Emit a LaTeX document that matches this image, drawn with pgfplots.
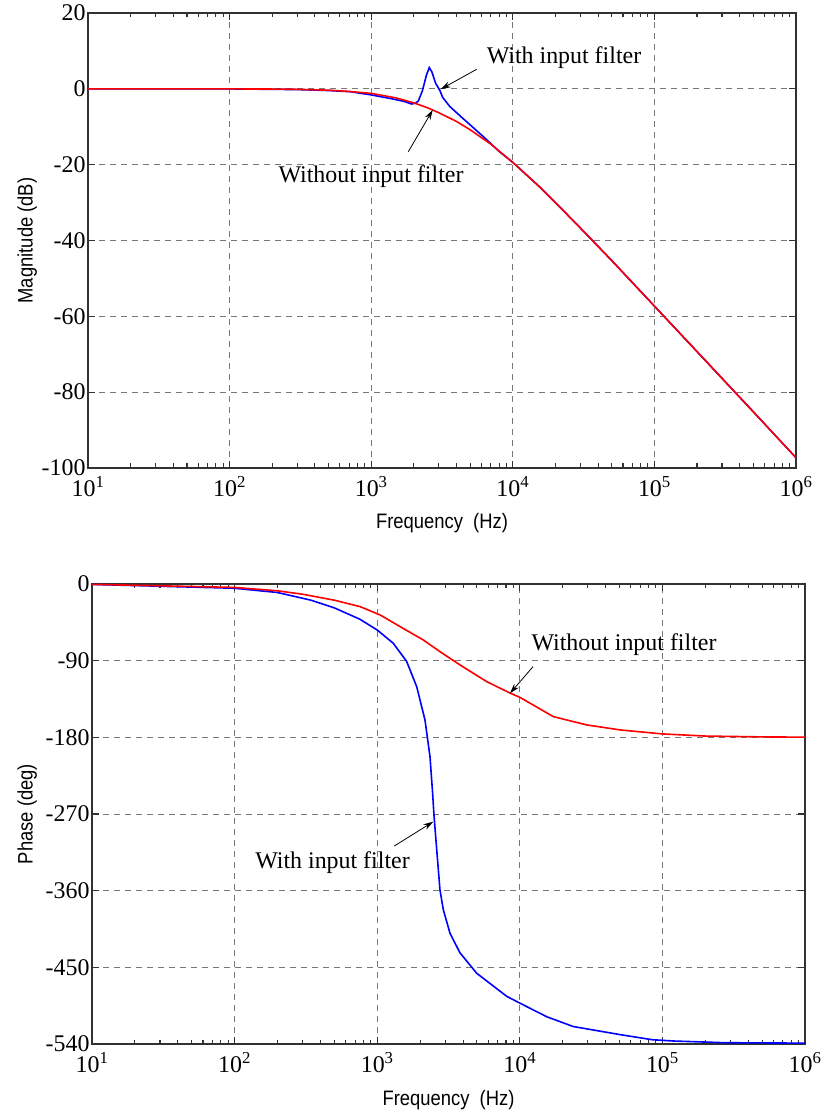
\documentclass[border=0pt]{standalone}
\usepackage{pgfplots}
\pgfplotsset{compat=1.18}
\usepackage{graphicx}
\usepackage{fontspec}
\setmainfont{Liberation Serif}
\newfontfamily\arial{Liberation Sans}
\usetikzlibrary{arrows.meta}
\definecolor{axgray}{RGB}{50,50,50}
\definecolor{gridgray}{RGB}{120,120,120}
\pgfplotsset{
  bode/.style={
    scale only axis,
    xmin=10, xmax=1000000,
    axis line style={draw=axgray, line width=1.2bp},
    xmajorticks=true, ymajorticks=true,
    tick align=inside,
    tickwidth=7bp, subtickwidth=4.5bp,
    every tick/.style={draw=axgray, line width=1.1bp},
    every extra x tick/.style={draw=axgray, line width=1.1bp},
    xtick={10,100,1000,10000,100000,1000000},
    xticklabels={10\textsuperscript{1},10\textsuperscript{2},10\textsuperscript{3},10\textsuperscript{4},10\textsuperscript{5},10\textsuperscript{6}},
    extra x ticks={20,30,40,50,60,70,80,90,200,300,400,500,600,700,800,900,2000,3000,4000,5000,6000,7000,8000,9000,20000,30000,40000,50000,60000,70000,80000,90000,200000,300000,400000,500000,600000,700000,800000,900000},
    extra x tick labels={},
    extra x tick style={grid=none, tickwidth=4.5bp},
    grid=major,
    major grid style={draw=gridgray, line width=0.9bp, dash pattern=on 6bp off 5bp},
    tick label style={font=\fontsize{24}{26}\selectfont},
    xticklabel style={yshift=-5bp},
    yticklabel style={xshift=1bp},
    label style={font=\arial\fontsize{21}{23}\selectfont},
  },
}
\tikzset{
  ann/.style={font=\fontsize{24}{26}\selectfont, inner sep=0pt},
  arr/.style={-{Stealth[length=10bp,width=6bp]}, line width=0.8bp, black},
}
\pgfplotstableread{
f db
10 0
100 -0.02
300 -0.2
500 -0.45
708 -0.75
1000 -1.6
1432 -2.7
1700 -3.3
1932 -4.0
2050 -3.8
2152 -3.2
2300 -0.5
2450 3.5
2570 5.6
2680 4.5
2850 1.5
3060 -0.5
3200 -2.3
3600 -4.7
4500 -8.0
6190 -12.6
8000 -16.5
10000 -19.4
15000 -25.4
20000 -30.0
30000 -36.7
50000 -45.3
100000 -57.3
200000 -69.3
500000 -85.2
1000000 -97.3
}\magblue
\pgfplotstableread{
f db
10 0
100 -0.02
200 -0.06
300 -0.13
500 -0.36
700 -0.69
1000 -1.2
1500 -2.4
2000 -3.7
2500 -5.0
3000 -6.3
4000 -8.6
5000 -10.8
7000 -14.6
10000 -19.4
15000 -25.4
20000 -30.0
30000 -36.7
50000 -45.3
100000 -57.3
200000 -69.3
500000 -85.2
1000000 -97.3
}\magred
\pgfplotstableread{
f ph
10 -0.5
100 -5
200 -10
343 -19
500 -28
757 -41.4
1000 -54
1297 -69.6
1610 -91
1892 -120.5
2163 -159.6
2345 -202.6
2447 -245.6
2500 -271
2638 -320
2755 -359
2909 -382.5
3240 -410
3806 -433
4990 -457
8090 -484
10000 -492
15450 -508
23700 -519.5
50500 -529
85000 -535
120000 -536.5
276000 -538.5
1000000 -539
}\phblue
\pgfplotstableread{
f ph
10 -0.4
100 -4
200 -8
300 -12
500 -19
757 -26.5
1050 -36.4
1446 -50
2105 -65.7
2755 -79.4
3806 -95
5860 -114.6
8530 -128
10000 -133
17180 -155.7
29400 -165.4
50500 -171.3
100000 -176
200000 -178.5
500000 -179.5
1000000 -179.8
}\phred
\begin{document}
\begin{tikzpicture}
\path[use as bounding box] (0bp,0bp) rectangle (821bp,1119bp);
\begin{semilogxaxis}[bode,
  at={(88bp,651bp)}, anchor=south west,
  width=708bp, height=455bp,
  ymin=-100, ymax=20,
  ytick={-100,-80,-60,-40,-20,0,20},
  yticklabels={-100,-80,-60,-40,-20,0,20},
  xlabel={\scalebox{0.88}[1]{Frequency~~(Hz)}},
  ylabel={\scalebox{0.88}[1]{Magnitude (dB)}},
  xlabel style={at={(axis description cs:0.5,-0.121)}, anchor=center},
  ylabel style={at={(axis description cs:-0.086,0.5)}, anchor=center},
]
\addplot[blue, line width=1.6bp] table[x=f,y=db] {\magblue};
\addplot[red, line width=1.6bp] table[x=f,y=db] {\magred};
\end{semilogxaxis}
\begin{semilogxaxis}[bode,
  at={(92bp,75bp)}, anchor=south west,
  width=713bp, height=460bp,
  ymin=-540, ymax=0,
  ytick={-540,-450,-360,-270,-180,-90,0},
  yticklabels={-540,-450,-360,-270,-180,-90,0},
  xlabel={\scalebox{0.88}[1]{Frequency~~(Hz)}},
  ylabel={\scalebox{0.88}[1]{Phase (deg)}},
  xlabel style={at={(axis description cs:0.5,-0.122)}, anchor=center},
  ylabel style={at={(axis description cs:-0.091,0.5)}, anchor=center},
]
\addplot[blue, line width=1.6bp] table[x=f,y=ph] {\phblue};
\addplot[red, line width=1.6bp] table[x=f,y=ph] {\phred};
\end{semilogxaxis}
% annotations
\node[ann] at (564bp,1061bp) {With input filter};
\draw[arr] (476.7bp,1049.7bp) -- (440.7bp,1029.7bp);
\node[ann] at (371bp,942bp) {Without input filter};
\draw[arr] (408.3bp,967.3bp) -- (432.7bp,1009bp);
\node[ann] at (624bp,474bp) {Without input filter};
\draw[arr] (533bp,452.3bp) -- (510bp,425.7bp);
\node[ann] at (332.5bp,256bp) {With input filter};
\draw[arr] (394.3bp,273bp) -- (433.3bp,297.3bp);
\end{tikzpicture}
\end{document}
